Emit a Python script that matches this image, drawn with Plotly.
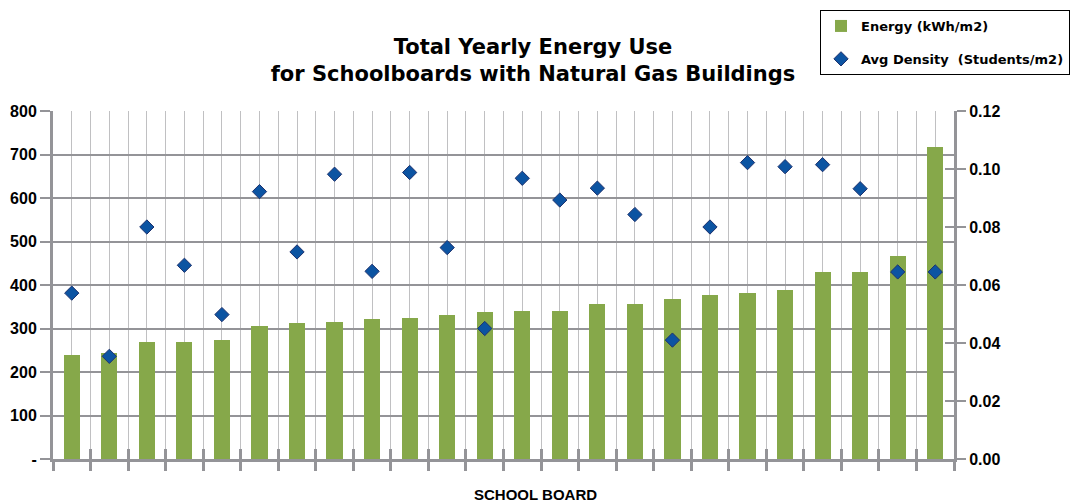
import plotly.graph_objects as go

# ==========================================================
# DATA
# ==========================================================

boards = list(range(1, 25))

energy = [
    239, 244, 269, 269, 273, 305, 312, 316, 321, 325, 332, 337,
    340, 341, 357, 357, 368, 377, 382, 389, 430, 430, 466, 718
]

density = [
    0.0572, 0.0354, 0.0800, 0.0668, 0.0498, 0.0922, 0.0714, 0.0982,
    0.0647, 0.0988, 0.0729, 0.0450, 0.0968, 0.0893, 0.0934, 0.0843,
    0.0410, 0.0800, 0.1022, 0.1008, 0.1015, 0.0932, 0.0645, 0.0645
]

left_ticks = [0, 100, 200, 300, 400, 500, 600, 700, 800]
left_labels = ["-", "100", "200", "300", "400", "500", "600", "700", "800"]

# ==========================================================
# STYLE
# ==========================================================

FONT = "Liberation Sans"
WIDE = "DejaVu Sans"
GREEN = "rgb(134,168,74)"
BLUE = "rgb(12,84,162)"
GRID_DARK = "rgb(148,148,152)"
GRID_LIGHT = "rgb(192,192,194)"

# the page body keeps an 8px margin, so the figure is 8px smaller
W, H = 1073, 496

fig = go.Figure()

fig.add_trace(
    go.Bar(
        x=boards,
        y=energy,
        name="Energy (kWh/m2)",
        marker=dict(color=GREEN, line=dict(width=0)),
        width=0.43,
        legendgroup="a",
    )
)

fig.add_trace(
    go.Scatter(
        x=boards,
        y=density,
        name="Avg Density  (Students/m2)",
        mode="markers",
        marker=dict(
            symbol="diamond",
            size=11,
            color=BLUE,
            line=dict(width=1, color="rgb(30,50,110)"),
        ),
        yaxis="y2",
        legendgroup="b",
    )
)

fig.update_layout(
    width=W,
    height=H,
    margin=dict(l=45, r=127, t=103, b=45, autoexpand=False),
    paper_bgcolor="white",
    plot_bgcolor="white",
    font=dict(family=FONT, color="black"),
    bargap=0,
    title=dict(
        text="Total Yearly Energy Use<br>for Schoolboards with Natural Gas Buildings",
        x=525 / W,
        xref="container",
        xanchor="center",
        y=1 - 46 / H,
        yref="container",
        yanchor="middle",
        font=dict(family=WIDE, size=21, weight="bold", color="black"),
    ),
    xaxis=dict(
        range=[0.5, 24.5],
        tick0=0.5,
        dtick=1,
        showticklabels=False,
        ticks="outside",
        ticklen=9,
        tickwidth=3,
        tickcolor=GRID_DARK,
        showgrid=True,
        gridcolor=GRID_LIGHT,
        gridwidth=1,
        minor=dict(
            tick0=1,
            dtick=1,
            showgrid=True,
            gridcolor=GRID_LIGHT,
            gridwidth=1,
            ticks="",
        ),
        showline=True,
        linecolor=GRID_DARK,
        linewidth=3,
        zeroline=False,
        fixedrange=True,
    ),
    xaxis2=dict(
        overlaying="x",
        matches="x",
        range=[0.5, 24.5],
        tick0=0.5,
        dtick=1,
        showticklabels=False,
        ticks="inside",
        ticklen=10,
        tickwidth=3,
        tickcolor=GRID_DARK,
        showgrid=False,
        side="bottom",
        anchor="y",
    ),
    yaxis=dict(
        range=[0, 800],
        tickvals=left_ticks,
        ticktext=left_labels,
        ticks="outside",
        ticklen=10,
        tickwidth=2,
        tickcolor=GRID_DARK,
        tickfont=dict(family=FONT, size=16, weight="bold", color="black"),
        showgrid=True,
        gridcolor=GRID_DARK,
        gridwidth=2,
        showline=True,
        linecolor=GRID_DARK,
        linewidth=3,
        zeroline=False,
        fixedrange=True,
    ),
    yaxis2=dict(
        range=[0, 0.12],
        dtick=0.02,
        tickformat=".2f",
        overlaying="y",
        side="right",
        ticks="outside",
        ticklen=9,
        tickwidth=2,
        tickcolor=GRID_DARK,
        tickfont=dict(family=FONT, size=16, weight="bold", color="black"),
        showgrid=False,
        showline=True,
        linecolor=GRID_DARK,
        linewidth=3,
        zeroline=False,
        fixedrange=True,
    ),
    yaxis3=dict(
        range=[0, 0.12],
        dtick=0.02,
        overlaying="y",
        side="right",
        ticks="inside",
        ticklen=9,
        tickwidth=2,
        tickcolor=GRID_DARK,
        showticklabels=False,
        showgrid=False,
        showline=False,
        zeroline=False,
    ),
    legend=dict(
        xref="container",
        yref="container",
        x=812 / W,
        y=1 - 2 / H,
        xanchor="left",
        yanchor="top",
        bordercolor="black",
        borderwidth=1,
        bgcolor="white",
        traceorder="grouped",
        tracegroupgap=13,
        font=dict(family=WIDE, size=13, weight="bold", color="black"),
    ),
    annotations=[
        dict(
            text="SCHOOL BOARD",
            x=(535 - 53) / 901,
            xref="paper",
            y=(459 - 494) / 348,
            yref="paper",
            xanchor="center",
            yanchor="middle",
            showarrow=False,
            font=dict(family=FONT, size=15, weight="bold", color="black"),
        )
    ],
)

# empty trace so the overlay axes carrying the crossing ticks get drawn
fig.add_trace(
    go.Scatter(
        x=[None], y=[None], xaxis="x2", yaxis="y3",
        showlegend=False, hoverinfo="skip",
    )
)

fig.write_html("out.html")
